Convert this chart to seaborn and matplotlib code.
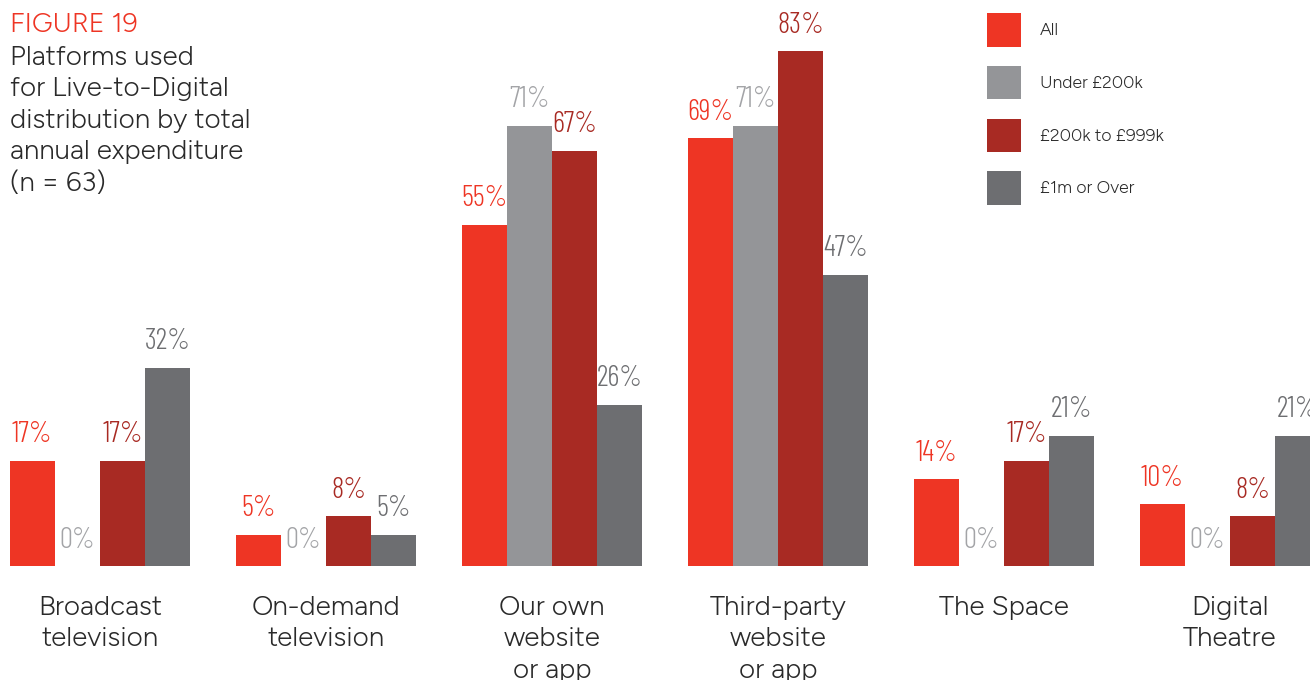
import matplotlib
matplotlib.use("Agg")
import matplotlib.pyplot as plt
from matplotlib.patches import Patch
import seaborn as sns
import pandas as pd

categories = [
    "Broadcast\ntelevision",
    "On-demand\ntelevision",
    "Our own\nwebsite\nor app",
    "Third-party\nwebsite\nor app",
    "The Space",
    "Digital\nTheatre",
]
series = ["All", "Under £200k", "£200k to £999k", "£1m or Over"]
all_orgs = [17, 5, 55, 69, 14, 10]
under_200k = [0, 0, 71, 71, 0, 0]
mid_200k_999k = [17, 8, 67, 83, 17, 8]
over_1m = [32, 5, 26, 47, 21, 21]
colors = ["#EE3524", "#949598", "#A82A23", "#6D6E71"]
label_colors = ["#EE3524", "#A3A4A7", "#A82A23", "#6D6E71"]

text_dark = "#2A2A2A"
body_font = ["Figtree", "DejaVu Sans"]
num_font = ["Barlow Condensed", "DejaVu Sans"]

values = [all_orgs, under_200k, mid_200k_999k, over_1m]
df = pd.DataFrame(
    [
        {"platform": c, "group": s, "share": v[i]}
        for s, v in zip(series, values)
        for i, c in enumerate(categories)
    ]
)

sns.set_theme(style="white")
plt.rcParams["font.family"] = body_font

fig = plt.figure(figsize=(13.1, 6.8), dpi=100)
ax = fig.add_axes([0, 114 / 680, 1, 566 / 680])

sns.barplot(
    data=df, x="platform", y="share", hue="group",
    order=categories, hue_order=series, palette=colors,
    width=0.8, saturation=1, ax=ax, legend=False,
    linewidth=0, errorbar=None,
)

ax.set_xlim(-0.4425, 5.354)
ax.set_ylim(0, 566 / 6.2)
for s in ax.spines.values():
    s.set_visible(False)
ax.set_yticks([])
ax.set_xlabel("")
ax.set_ylabel("")
ax.tick_params(axis="x", length=0, pad=21.5)
for lbl in ax.get_xticklabels():
    lbl.set_fontsize(20)
    lbl.set_color(text_dark)
    lbl.set_linespacing(1.39)
    lbl.set_family(body_font)

for cont, col in zip(ax.containers, label_colors):
    ax.bar_label(
        cont, labels=[f"{v:.0f}%" for v in cont.datavalues],
        padding=9, color=col, fontsize=21, family=num_font, fontweight=300,
    )

fig.text(10 / 1310, 1 - 13 / 680, "FIGURE 19", color="#EE3524",
         fontsize=19.5, va="top", ha="left", family=body_font)
fig.text(10 / 1310, 1 - 46 / 680,
         "Platforms used\nfor Live-to-Digital\ndistribution by total\nannual expenditure\n(n = 63)",
         color=text_dark, fontsize=20, va="top", ha="left",
         linespacing=1.39, family=body_font)

handles = [Patch(facecolor=c, edgecolor="none") for c in colors]
leg = ax.legend(
    handles, series, loc="upper left",
    bbox_to_anchor=(987 / 1310, 1 - 13 / 680), bbox_transform=fig.transFigure,
    frameon=False, borderpad=0, borderaxespad=0,
    handlelength=1.90, handleheight=2.55, handletextpad=1.09,
    labelspacing=1.09, prop={"family": body_font, "size": 12.7},
)
for t in leg.get_texts():
    t.set_color(text_dark)

fig.savefig("out.png", dpi=100)
